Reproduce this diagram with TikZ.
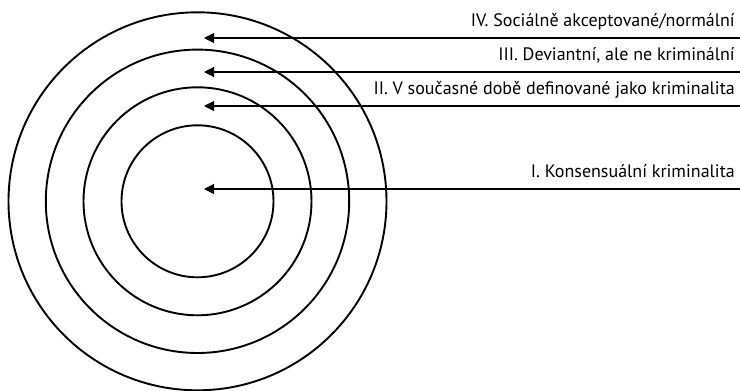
\documentclass[tikz,border=0pt]{standalone}
\usepackage{fontspec}
\setmainfont{PT Sans}
\usetikzlibrary{arrows.meta}
\begin{document}
\begin{tikzpicture}[x=1pt,y=-1pt,
  ring/.style={draw=black,line width=1.9pt},
  pointer/.style={draw=black,line width=1.1pt,-{Triangle[length=10pt,width=10pt]}},
  lbl/.style={anchor=base east,inner sep=0pt,font=\fontsize{18}{21}\selectfont}]
\useasboundingbox (0,0) rectangle (740,391);
\coordinate (c) at (197.5,201.3);
\draw[ring] (c) circle[radius=189];
\draw[ring] (c) circle[radius=151.7];
\draw[ring] (c) circle[radius=114];
\draw[ring] (c) circle[radius=76];
\coordinate (t4) at (204,38); \coordinate (e4) at (740,38);
\coordinate (t3) at (204,72); \coordinate (e3) at (740,72);
\coordinate (t2) at (204,106); \coordinate (e2) at (740,106);
\coordinate (t1) at (204,189); \coordinate (e1) at (740,189);
\draw[pointer] (e4) -- (t4);
\draw[pointer] (e3) -- (t3);
\draw[pointer] (e2) -- (t2);
\draw[pointer] (e1) -- (t1);
\node[lbl] (l4) at (735,26) {IV. Sociálně akceptované/normální};
\node[lbl] (l3) at (735,60) {III. Deviantní, ale ne kriminální};
\node[lbl] (l2) at (735,94) {II. V současné době definované jako kriminalita};
\node[lbl] (l1) at (735,177) {I. Konsensuální kriminalita};
\end{tikzpicture}
\end{document}
